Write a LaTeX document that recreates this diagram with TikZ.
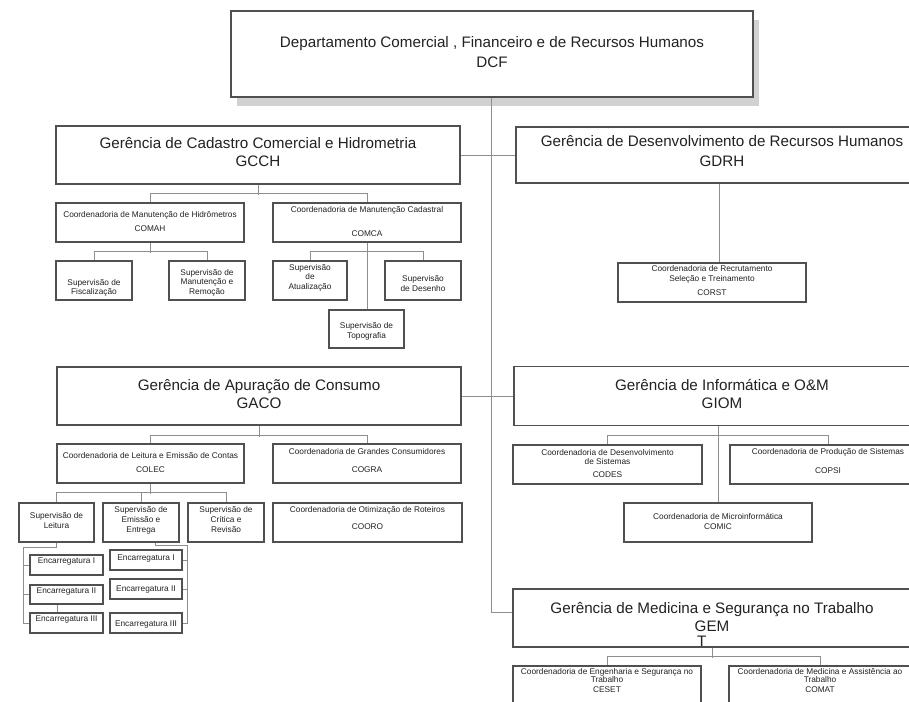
\documentclass[tikz,border=0pt]{standalone}
\usepackage{fontspec}
\setmainfont{Liberation Sans}
\usetikzlibrary{shadows}
\definecolor{boxc}{HTML}{505050}
\definecolor{linec}{HTML}{8E8E8E}
\definecolor{txtc}{HTML}{222222}
\newcommand\tx[2]{\raisebox{#1}[\height][\depth]{\begin{tabular}{@{}c@{}}#2\end{tabular}}}
\begin{document}
\begin{tikzpicture}[x=1pt,y=-1pt,
  bx/.style={draw=boxc, line width=1.1pt, fill=white, inner sep=0pt, text=txtc,
             font=\fontsize{8.3}{9.6}\selectfont},
  big/.style={bx, font=\fontsize{15.2}{18.5}\selectfont},
  sz/.style 2 args={minimum width=#1pt, minimum height=#2pt},
  ln/.style={draw=linec, line width=0.9pt}]
\fill[white] (0,0) rectangle (909,701);
\useasboundingbox (0,0) rectangle (909,701);

% top
\node[big, sz={522}{86}, line width=1.8pt,
      drop shadow={shadow xshift=6pt, shadow yshift=-9pt, fill=black!18, opacity=1}]
  (DCF) at (492,54) {\tx{0pt}{Departamento Comercial , Financeiro e de Recursos Humanos\\[1.5pt]DCF}};

% managers
\node[big, sz={404}{58}] (GCCH) at (258,155) {\tx{1pt}{Gerência de Cadastro Comercial e Hidrometria\\GCCH}};
\node[big, sz={412}{56}] (GDRH) at (722,155) {\tx{2pt}{Gerência de Desenvolvimento de Recursos Humanos\\[2pt]GDRH}};
\node[big, sz={404}{58}] (GACO) at (259,396) {\tx{0pt}{Gerência de Apuração de Consumo\\GACO}};
\node[big, sz={416}{59}] (GIOM) at (722,396) {\tx{0pt}{Gerência de Informática e O\&M\\GIOM}};
\node[big, sz={398}{58}] (GEM) at (712,618) {\tx{-8pt}{Gerência de Medicina e Segurança no Trabalho\\GEM\\[-4pt]\makebox[30pt][l]{T}}};

% GCCH branch
\node[bx, sz={188}{39}] (COMAH) at (150,222.5) {\tx{0pt}{Coordenadoria de Manutenção de Hidrômetros\\[4.4pt]COMAH}};
\node[bx, sz={188}{39}] (COMCA) at (367,222.5) {\tx{0pt}{Coordenadoria de Manutenção Cadastral\\[14pt]COMCA}};
\node[bx, sz={76}{39}] (SFisc) at (94,280.5) {\tx{-7.5pt}{Supervisão de\\Fiscalização}};
\node[bx, sz={76}{39}] (SManut) at (207,280.5) {\tx{-2.5pt}{Supervisão de\\Manutenção e\\Remoção}};
\node[bx, sz={74}{39}] (SAtual) at (310,280.5) {\tx{2.5pt}{Supervisão\\de\\Atualização}};
\node[bx, sz={76}{39}] (SDes) at (423,280.5) {\tx{-4pt}{Supervisão\\de Desenho}};
\node[bx, sz={75}{38}] (STopo) at (366.5,329) {\tx{-2.5pt}{Supervisão de\\Topografia}};

% GDRH branch
\node[bx, sz={188}{39}] (CORST) at (712,282.5) {\tx{1pt}{Coordenadoria de Recrutamento\\Seleção e Treinamento\\[4pt]CORST}};

% GACO branch
\node[bx, sz={187}{39}] (COLEC) at (150.5,463.5) {\tx{0pt}{Coordenadoria de Leitura e Emissão de Contas\\[4.4pt]COLEC}};
\node[bx, sz={188}{39}] (COGRA) at (367,463.5) {\tx{1.5pt}{Coordenadoria de Grandes Consumidores\\[8.4pt]COGRA}};
\node[bx, sz={189}{39}] (COORO) at (367.5,522.5) {\tx{3pt}{Coordenadoria de Otimização de Roteiros\\[7.4pt]COORO}};
\node[bx, sz={75}{39}] (SLeit) at (56.5,522.5) {\tx{1pt}{Supervisão de\\Leitura}};
\node[bx, sz={76}{39}] (SEmis) at (141,522.5) {\tx{2pt}{Supervisão de\\Emissão e\\Entrega}};
\node[bx, sz={76}{39}] (SCrit) at (226,522.5) {\tx{2pt}{Supervisão de\\Crítica e\\Revisão}};
\node[bx, sz={73}{20}] (EL1) at (66.5,565) {\tx{3.5pt}{Encarregatura I}};
\node[bx, sz={73}{19}] (EL2) at (66.5,594.5) {\tx{3pt}{Encarregatura II}};
\node[bx, sz={73}{20}] (EL3) at (66.5,623) {\tx{3.5pt}{Encarregatura III}};
\node[bx, sz={72}{20}] (ER1) at (146,560) {\tx{1.5pt}{Encarregatura I}};
\node[bx, sz={72}{20}] (ER2) at (146,589) {\tx{-0.5pt}{Encarregatura II}};
\node[bx, sz={72}{20}] (ER3) at (146,623) {\tx{-2pt}{Encarregatura III}};

% GIOM branch
\node[bx, sz={189}{39}] (CODES) at (607.5,464.5) {\tx{0pt}{Coordenadoria de Desenvolvimento\\de Sistemas\\[3.4pt]CODES}};
\node[bx, sz={196}{39}] (COPSI) at (828,464.5) {\tx{2pt}{Coordenadoria de Produção de Sistemas\\[9.4pt]COPSI}};
\node[bx, sz={188}{39}] (COMIC) at (718,522.5) {\tx{0pt}{Coordenadoria de Microinformática\\COMIC}};

% GEM branch
\node[bx, sz={188}{39}] (CESET) at (607,685.5) {\tx{4pt}{Coordenadoria de Engenharia e Segurança no\\[-2pt]Trabalho\\CESET}};
\node[bx, sz={182}{39}] (COMAT) at (820,685.5) {\tx{4pt}{Coordenadoria de Medicina e Assistência ao\\[-2pt]Trabalho\\COMAT}};

% connectors
\draw[ln] ([xshift=-1pt]DCF.south) |- ([yshift=6pt]GEM.west);
\draw[ln] (GCCH.east) -- (GDRH.west);
\draw[ln] (GACO.east) -- (GIOM.west);

\draw[ln] (GCCH.south) -- ++(0,10);
\draw[ln] (COMAH.north) -- ++(0,-9) -| (COMCA.north);
\draw[ln] (COMAH.south) -- ++(0,10);
\draw[ln] (SFisc.north) -- ++(0,-9) -| (SManut.north);
\draw[ln] (COMCA.south) -- (COMCA.south |- STopo.north);
\draw[ln] (SAtual.north) -- ++(0,-9) -| (SDes.north);

\draw[ln] ([xshift=-3pt]GDRH.south) -- ([xshift=-3pt]GDRH.south |- CORST.north);

\draw[ln] (GACO.south) -- ++(0,11);
\draw[ln] (COLEC.north) -- ++(0,-8) -| (COGRA.north);
\draw[ln] (COLEC.south) -- ++(0,10);
\draw[ln] (SLeit.north) -- ++(0,-10) -| (SCrit.north);
\draw[ln] (SEmis.north) -- ++(0,-10);
\draw[ln] (SLeit.south) -- ++(0,5) -| ([xshift=-6pt]EL3.west) -- (EL3.west);
\draw[ln] (EL1.west) -- ++(-6,0);
\draw[ln] (EL2.west) -- ++(-6,0);
\draw[ln] ([xshift=-9.5pt]EL2.south) -- ([xshift=-9.5pt]EL3.north);
\draw[ln] ([xshift=14pt]SEmis.south) -- ++(0,3) -| ([xshift=5pt]ER3.east) -- (ER3.east);
\draw[ln] (ER1.east) -- ++(5,0);
\draw[ln] (ER2.east) -- ++(5,0);

\draw[ln] ([xshift=-4pt]GIOM.south) -- ([xshift=-4pt]GIOM.south |- COMIC.north);
\draw[ln] (CODES.north) -- ++(0,-9) -| (COPSI.north);

\draw[ln] (GEM.south) -- ++(0,10);
\draw[ln] (CESET.north) -- ++(0,-9) -| (COMAT.north);
\end{tikzpicture}
\end{document}
